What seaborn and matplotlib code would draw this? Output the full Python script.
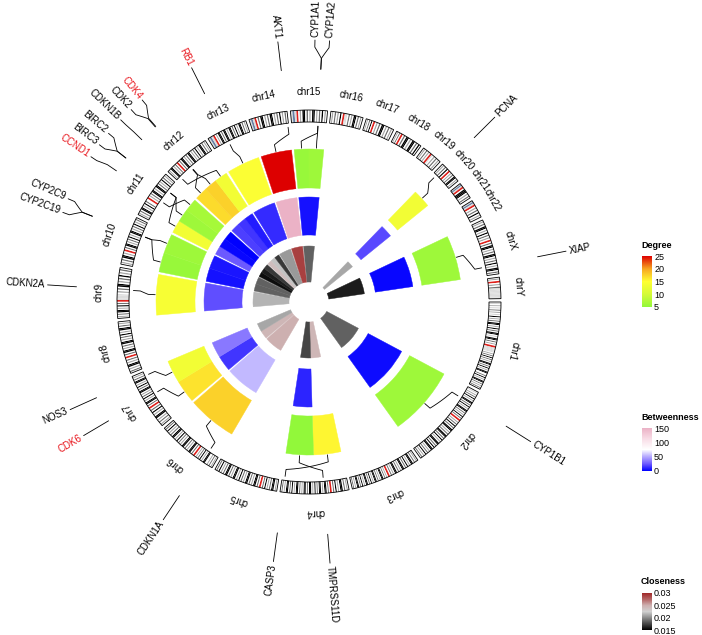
import numpy as np
import matplotlib
matplotlib.use("Agg")
import matplotlib.pyplot as plt
from matplotlib.colors import LinearSegmentedColormap, Normalize
from matplotlib.cm import ScalarMappable
import seaborn as sns

# ---------------- data ----------------
chroms = ["chr1", "chr2", "chr3", "chr4", "chr5", "chr6", "chr7", "chr8",
          "chr9", "chr10", "chr11", "chr12", "chr13", "chr14", "chr15", "chr16",
          "chr17", "chr18", "chr19", "chr20", "chr21", "chr22", "chrX", "chrY"]
chrom_len = [249.25, 243.20, 198.02, 191.15, 180.92, 171.12, 159.14, 146.36,
             141.21, 135.53, 135.01, 133.85, 115.17, 107.35, 102.53, 90.35,
             81.20, 78.08, 59.13, 63.03, 48.13, 51.30, 155.27, 59.37]  # Mb
centromere = [125.0, 93.3, 91.0, 50.4, 48.4, 61.0, 59.9, 45.6, 49.0, 40.2,
              53.7, 35.8, 17.9, 17.6, 19.0, 36.6, 24.0, 17.2, 26.5, 27.5,
              13.2, 14.7, 60.6, 12.5]

# stains: w gneg, 1 gpos25, 2 gpos50, 3 gpos75, 4 gpos100, v gvar, s stalk
bands_p = ["w1w2w1w3w2w1w4w2w3w44w2w4w3w44w1w44w3w2w", "w1w2w3w4w2w44w3w4w2w44w3w2w4w3w",
           "w2w3w44w2w4w3w44w2w3w44w2w3w", "w2w3w44w2w4w3w", "w2w44w3w2w4w3w",
           "w2w3w2ww44w2w4w3w2w", "w2w3w2w44w2w4w3w", "w3w2w44w2w3w",
           "w2w3w44w2w4w3w", "w2w3w44w2w", "w2w3w44w2w4w3ww", "w2w44w2w3w",
           "vsv", "vsv", "vsv", "w2w3w2w4w", "w2w3w4w", "w2w3w", "w2w3w2w", "w2w3w4w",
           "vsv", "vsv", "w2w3w44w2w4w3w2w", "w2w"]
bands_q = ["vvvvvw2w3w4w3w2w44w3w4w2w44ww3w4w2w44w3w2w3w",
           "w2w3w4w3w44w2w3w44w3w4w2w44w3w4w44w2w3w4w2w3w",
           "w2w3w44w2w3w44w2w4w3w44w2w4w3w44w2w3w",
           "w3w44w2w44w3w4w2w44w3w44w2w3w44w2w4w3w44w2w3w",
           "w3w44w2w3w44w2w3w4w2w44w2w3w44w3w2w4w3w",
           "w3w44w2w3w44w2w3w4w2w44w3w2w4w3w",
           "w3w44w2w4w3w2w44w3w4w2w44w3w2w",
           "w3w44w2w3w44w2w3w4w2w44w3w2w",
           "vvvvw2w3w44w2w3w4w2w3w",
           "w3w44w2w3w4w2w44w2w3w4w2w3w",
           "w2w3w44w2w44w3w2w4w3w2w",
           "w3w44w2w3w44w2w3w4w2w44w3w2w",
           "w2w44w3w44w2w44w3w4w2w44w3w2w",
           "w3w44w2w3w44w2w3w4w2w3w",
           "w2w44w3w2w44w2w3w4w2w",
           "vvw3w2w44w3w2w", "w2w3w44w2w3w2w", "w3w44w2w44w3w4w", "vw2w3w2w",
           "w2w3w44w2w", "w444w2w3w", "w2w3w4w2w",
           "w3w44w2w3w44w2w3w4w2w44w3w", "w2w3vvvvvvvv"]

genes = ["CYP1B1", "CASP3", "TMPRSS11D", "CDKN1A", "CDK6", "NOS3", "CDKN2A",
         "CYP2C19", "CYP2C9", "BIRC2", "BIRC3", "CCND1", "CDK2", "CDK4", "CDKN1B",
         "RB1", "AKT1", "CYP1A1", "CYP1A2", "PCNA", "XIAP"]
gene_chrom = ["chr2", "chr4", "chr4", "chr6", "chr7", "chr7", "chr9",
              "chr10", "chr10", "chr11", "chr11", "chr11", "chr12", "chr12", "chr12",
              "chr13", "chr14", "chr15", "chr15", "chr20", "chrX"]
gene_pos = [38.3, 183.0, 68.7, 32.0, 87.0, 146.0, 80.0,
            94.0, 94.2, 102.2, 102.0, 66.0, 55.0, 56.5, 12.9,
            47.0, 105.0, 78.0, 78.2, 10.0, 130.0]  # Mb
degree = [6, 15.5, 5, 17.5, 16.5, 13.5, 14,
          5.5, 6, 13.5, 6, 6.5, 17, 17.5, 13.5,
          14.5, 25, 5.5, 6, 13.5, 6]
betweenness = [3, 75, 10, 55, 15, 35, 22,
               5, 6, 25, 2, 0, 18, 15, 8,
               12, 150, 5, 5, 20, 2]
closeness = [0.0185, 0.0245, 0.0175, 0.025, 0.0245, 0.021, 0.0215,
             0.0185, 0.0185, 0.0155, 0.016, 0.017, 0.024, 0.022, 0.017,
             0.0205, 0.029, 0.0185, 0.0185, 0.021, 0.016]
red_genes = ["CDK4", "RB1", "CCND1", "CDK6"]

deg_ticks = [5, 10, 15, 20, 25]
btw_ticks = [0, 50, 100, 150]
cls_ticks = [0.015, 0.02, 0.025, 0.03]
cls_tick_labels = ["0.015", "0.02", "0.025", "0.03"]

# ---------------- style ----------------
sns.set_theme(style="white")
plt.rcParams["font.family"] = ["Liberation Sans", "DejaVu Sans"]
plt.rcParams["text.color"] = "black"

deg_cmap = LinearSegmentedColormap.from_list(
    "deg", [(0, "#92F83A"), (0.25, "#D4FA38"), (0.5, "#FFFF33"), (0.75, "#F7A521"), (1, "#DD0000")])
btw_cmap = LinearSegmentedColormap.from_list(
    "btw", [(0, "#0000FF"), (0.167, "#6E5AFF"), (0.333, "#B4A8FF"), (0.5, "#FFFFFF"),
            (0.75, "#F8DCE6"), (1, "#EBB2C6")])
cls_cmap = LinearSegmentedColormap.from_list(
    "cls", [(0, "#000000"), (0.333, "#8C8C8C"), (0.5, "#D0D0D0"), (0.667, "#CDB0B0"),
            (0.833, "#B46464"), (1, "#A02828")])
deg_norm = Normalize(5, 25)
btw_norm = Normalize(0, 150)
cls_norm = Normalize(0.015, 0.03)

stain_col = {"w": "#FFFFFF", "1": "#D2D2D2", "2": "#A8A8A8", "3": "#707070",
             "4": "#000000", "v": "#DCDCDC", "s": "#647FA4", "r": "#E0201B"}

W, H = 702, 635
fig = plt.figure(figsize=(W / 100, H / 100), dpi=100)
CX, CY, RMAX = 309, 302, 300
ax = fig.add_axes([(CX - RMAX) / W, (H - CY - RMAX) / H, 2 * RMAX / W, 2 * RMAX / H],
                  projection="polar")
ax.set_theta_zero_location("E")
ax.set_theta_direction(-1)
ax.set_ylim(0, RMAX)
ax.set_axis_off()

GAP = 1.0
k = (360 - GAP * len(chroms)) / sum(chrom_len)
starts = {}
acc = 0.0
for i, (c, L) in enumerate(zip(chroms, chrom_len)):
    starts[c] = acc * k + i * GAP
    acc += L


def ang(c, pos):
    return starts[c] + pos * k


# ---------------- ideogram ----------------
R_IN, R_OUT = 180, 192
bt, bw, bc = [], [], []
half = 2.5
for c, L, cen, p, q in zip(chroms, chrom_len, centromere, bands_p, bands_q):
    segs = []
    pw = (cen - half) / len(p)
    for j, s in enumerate(p):
        segs.append((j * pw, (j + 1) * pw, s))
    segs.append((cen - half, cen + half, "r"))
    qw = (L - cen - half) / len(q)
    for j, s in enumerate(q):
        segs.append((cen + half + j * qw, cen + half + (j + 1) * qw, s))
    for s0, s1, st in segs:
        bt.append(np.radians(ang(c, s0)))
        bw.append(np.radians((s1 - s0) * k))
        bc.append(stain_col[st])
ax.bar(bt, R_OUT - R_IN, width=bw, bottom=R_IN, align="edge", color=bc, linewidth=0)
ax.bar([np.radians(starts[c]) for c in chroms], R_OUT - R_IN,
       width=[np.radians(L * k) for L in chrom_len], bottom=R_IN, align="edge",
       facecolor="none", edgecolor="black", linewidth=0.6)

for c, L in zip(chroms, chrom_len):
    a = starts[c] + L * k / 2
    rot = (-a - 90 + 180) % 360 - 180
    ax.text(np.radians(a), 205, c, rotation=rot, rotation_mode="anchor",
            ha="center", va="bottom", fontsize=7)

# ---------------- gene labels outside ----------------
gene_ang = [ang(c, p) for c, p in zip(gene_chrom, gene_pos)]


def spread(vals, gap):
    groups = [[v] for v in vals]
    while True:
        pos = [[np.mean(g) + (j - (len(g) - 1) / 2) * gap for j in range(len(g))] for g in groups]
        merged = False
        for i in range(len(groups) - 1):
            if pos[i + 1][0] - pos[i][-1] < gap - 1e-9:
                groups[i] = groups[i] + groups.pop(i + 1)
                merged = True
                break
        if not merged:
            return [x for g in pos for x in g]


order = np.argsort(gene_ang)
lab_ang = spread([gene_ang[i] for i in order], 3.2)
for idx, la in zip(order, lab_ang):
    ga = gene_ang[idx]
    th = np.radians(np.r_[ga, np.linspace(ga, la, 12), la])
    rr = np.r_[233, np.linspace(244, 255, 12), 262]
    ax.plot(th, rr, color="black", lw=0.6)
    phi = (-la + 180) % 360 - 180
    if -90 < phi <= 90:
        rot, ha = phi, "left"
    else:
        rot, ha = (phi + 360) % 360 - 180, "right"
    ax.text(np.radians(la), 265, genes[idx], rotation=rot, rotation_mode="anchor",
            ha=ha, va="center", fontsize=7,
            color="#E8141B" if genes[idx] in red_genes else "black")

# ---------------- inner tracks ----------------
slot_lo, slot_hi = [], []
for i, c in enumerate(gene_chrom):
    members = [j for j, cc in enumerate(gene_chrom) if cc == c]
    n = len(members)
    j = members.index(i)
    L = chrom_len[chroms.index(c)]
    slot_lo.append(ang(c, j * L / n))
    slot_hi.append(ang(c, (j + 1) * L / n))
slot_lo = np.array(slot_lo)
slot_hi = np.array(slot_hi)

tracks = [(degree, deg_cmap, deg_norm, 114, 153),
          (betweenness, btw_cmap, btw_norm, 67, 105),
          (closeness, cls_cmap, cls_norm, 20, 56)]
for vals, cmap, norm, r0, r1 in tracks:
    cols = [cmap(norm(v)) for v in vals]
    ax.bar(np.radians(slot_lo), r1 - r0, width=np.radians(slot_hi - slot_lo), bottom=r0,
           align="edge", color=cols, edgecolor=cols, linewidth=0.3)

for i in range(len(genes)):
    ga = gene_ang[i]
    sa = (slot_lo[i] + slot_hi[i]) / 2
    th = np.radians(np.r_[ga, np.linspace(ga, sa, 12), sa])
    rr = np.r_[176, np.linspace(169, 161, 12), 154]
    ax.plot(th, rr, color="black", lw=0.6)


# ---------------- legends ----------------
def add_cbar(top_px, bot_px, cmap, norm, ticks, labels, title, title_px):
    cax = fig.add_axes([642 / W, (H - bot_px) / H, 10 / W, (bot_px - top_px) / H])
    cb = fig.colorbar(ScalarMappable(norm=norm, cmap=cmap), cax=cax, ticks=ticks)
    cb.outline.set_visible(False)
    cb.ax.set_yticklabels(labels)
    cb.ax.tick_params(axis="y", direction="in", color="white", length=2.5, width=0.8,
                      left=True, right=True, labelsize=6.5, pad=1.5, labelcolor="black")
    fig.text(641 / W, 1 - title_px / H, title, fontsize=6.5, fontweight="bold",
             ha="left", va="center")


add_cbar(256, 307, deg_cmap, deg_norm, deg_ticks, [str(t) for t in deg_ticks], "Degree", 245)
add_cbar(428, 471, btw_cmap, btw_norm, btw_ticks, [str(t) for t in btw_ticks], "Betweenness", 417)
add_cbar(593, 630, cls_cmap, cls_norm, cls_ticks, cls_tick_labels, "Closeness", 581)

fig.savefig("out.png", dpi=100)
